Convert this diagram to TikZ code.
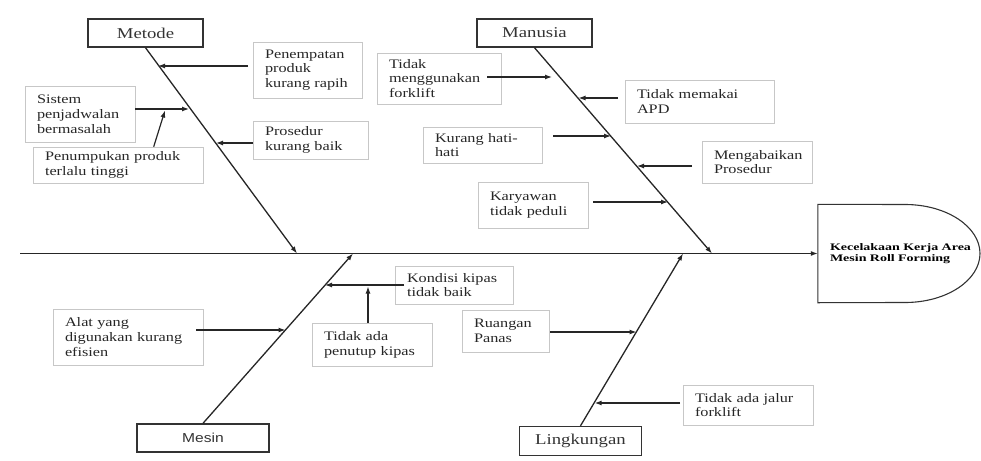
\documentclass[tikz,border=0pt]{standalone}
\usepackage{fontspec}
\setmainfont[FakeStretch=1.25]{Liberation Serif}
\newfontfamily\headfont[FakeStretch=1.4]{Liberation Serif}
\newfontfamily\mesinfont[FakeStretch=1.2]{Liberation Sans}
\usetikzlibrary{arrows.meta,calc}
\newcommand\causefont{\fontsize{13}{14.8}\selectfont}
\newcommand\catfont{\fontsize{15}{17}\selectfont}
\tikzset{
  cat/.style={draw=black!80, line width=1.4pt, inner sep=0pt, font=\catfont, text=black!80},
  cause/.style={draw=black!22, line width=0.6pt, align=left, inner xsep=12pt, inner ysep=0pt, font=\causefont, text=black!85},
  bone/.style={draw=black!85, line width=1.3pt, -{Latex[length=7pt,width=5pt]}},
  arr/.style={draw=black!85, line width=1.2pt, -{Latex[length=7pt,width=5pt]}},
}
\begin{document}
\begin{tikzpicture}[x=1pt,y=-1pt]
\useasboundingbox (0,0) rectangle (981,460);
% category boxes
\node[cat, minimum width=115, minimum height=28] (met) at (145.5,33) {Metode};
\node[cat, minimum width=115, minimum height=28] (man) at (534.5,33) {Manusia};
\node[cat, minimum width=132, minimum height=28, font=\mesinfont\fontsize{13}{15}\selectfont] (mes) at (203,438) {Mesin};
\node[cat, minimum width=122, minimum height=29] (lin) at (580.5,441) {Lingkungan};
% head
\node[minimum width=174, minimum height=98, inner sep=0pt, text width=150, align=left, font=\headfont\bfseries\fontsize{10}{11}\selectfont] (head) at (905,253.5) {\raisebox{3pt}{\parbox{150pt}{Kecelakaan Kerja Area\\Mesin Roll Forming}}};
\draw[black!80, line width=1.1pt] (head.north west) -- (905,204.5) .. controls (947,204.5) and (980,227) .. (980,253.5) .. controls (980,280) and (947,302.5) .. (905,302.5) -- (head.south west) -- cycle;
% spine
\coordinate (sp) at (20,253.5);
\draw[bone] (sp) -- (head.west);
\coordinate (j1) at (297,253.5);
\coordinate (j2) at (712,253.5);
\coordinate (j3) at (353,253.5);
\coordinate (j4) at (683,253.5);
\draw[bone] (met.south) -- (j1);
\draw[bone] (man.south) -- (j2);
\draw[bone] (mes.north) -- (j3);
\draw[bone] (lin.north) -- (j4);
% Metode causes
\node[cause, text width=85, minimum height=56] (c1) at (307.5,70) {Penempatan\\produk\\kurang rapih};
\node[cause, text width=86, minimum height=56] (c2) at (80,114) {Sistem\\penjadwalan\\bermasalah};
\node[cause, text width=146, minimum height=36] (c3) at (118,165) {Penumpukan produk\\terlalu tinggi};
\node[cause, text width=91, minimum height=38] (c4) at (310.5,140) {Prosedur\\kurang baik};
\coordinate (a1) at (158,66);
\coordinate (a1s) at (248,66);
\draw[arr] (a1s) -- (a1);
\coordinate (a2) at (189,109);
\draw[arr] (c2.east |- a2) -- (a2);
\coordinate (a3s) at ($(c3.north west)+(121,0)$);
\coordinate (a3) at (165,110.5);
\draw[arr] (a3s) -- (a3);
\coordinate (a4) at (216,143);
\draw[arr] (c4.west |- a4) -- (a4);
% Manusia causes
\node[cause, text width=100, minimum height=51] (m1) at (439,78.5) {Tidak\\menggunakan\\forklift};
\node[cause, text width=125, minimum height=43] (m2) at (699.5,101.5) {Tidak memakai\\APD};
\node[cause, text width=95, minimum height=36] (m3) at (482.5,145) {Kurang hati-\\hati};
\node[cause, text width=86, minimum height=42] (m4) at (757,162) {Mengabaikan\\Prosedur};
\node[cause, text width=86, minimum height=46] (m5) at (533,205) {Karyawan\\tidak peduli};
\coordinate (b1s) at (487,77);
\coordinate (b1) at (552,77);
\draw[arr] (b1s) -- (b1);
\coordinate (b2s) at (618,98);
\coordinate (b2) at (578.5,98);
\draw[arr] (b2s) -- (b2);
\coordinate (b3s) at (553,136);
\coordinate (b3) at (611,136);
\draw[arr] (b3s) -- (b3);
\coordinate (b4s) at (692,166);
\coordinate (b4) at (637,166);
\draw[arr] (b4s) -- (b4);
\coordinate (b5s) at (593,202);
\coordinate (b5) at (668,202);
\draw[arr] (b5s) -- (b5);
% Mesin causes
\node[cause, text width=94, minimum height=38] (e1) at (454,285) {Kondisi kipas\\tidak baik};
\node[cause, text width=96, minimum height=43] (e2) at (372,344.5) {Tidak ada\\penutup kipas};
\node[cause, text width=126, minimum height=56] (e3) at (128,337) {Alat yang\\digunakan kurang\\efisien};
\coordinate (d1s) at (404,285);
\coordinate (d1) at (325,285);
\draw[arr] (d1s) -- (d1);
\coordinate (d2) at (368,286.5);
\draw[arr] (e2.north -| d2) -- (d2);
\coordinate (d3s) at (196,330);
\coordinate (d3) at (285.5,330);
\draw[arr] (d3s) -- (d3);
% Lingkungan causes
\node[cause, text width=63, minimum height=42] (l1) at (505.5,331) {Ruangan\\Panas};
\node[cause, text width=106, minimum height=40] (l2) at (748,405) {Tidak ada jalur\\forklift};
\coordinate (g1s) at (550,332);
\coordinate (g1) at (636.5,332);
\draw[arr] (g1s) -- (g1);
\coordinate (g2s) at (680,403);
\coordinate (g2) at (594.6,403);
\draw[arr] (g2s) -- (g2);
\end{tikzpicture}
\end{document}
